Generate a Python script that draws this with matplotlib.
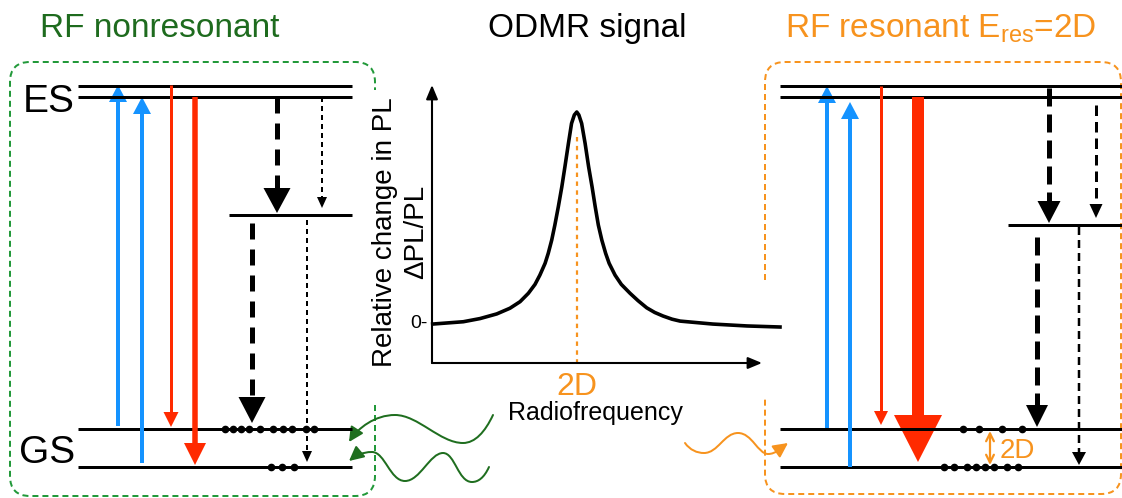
import numpy as np
import matplotlib
matplotlib.use('Agg')
import matplotlib.pyplot as plt
from matplotlib.path import Path
from matplotlib.patches import PathPatch, FancyArrowPatch
from matplotlib.transforms import blended_transform_factory

plt.rcParams['font.family'] = ['Liberation Sans', 'DejaVu Sans']

# ODMR line shape (RF in arb. units, relative PL change normalised to peak)
rf = [0.02, 0.42, 0.90, 1.38, 1.86, 2.24, 2.53, 2.77, 2.96, 3.10, 3.25, 3.34, 3.44,
      3.53, 3.63, 3.73, 3.82, 3.92, 4.01, 4.09, 4.16,
      4.22, 4.30, 4.40, 4.50, 4.60, 4.69, 4.78, 4.88, 4.99, 5.09, 5.26, 5.44, 5.69,
      5.92, 6.17, 6.40, 6.64, 6.90, 7.13, 8.07, 9.05, 10.0]
dpl = [-0.005, 0.0, 0.006, 0.021, 0.043, 0.070, 0.101, 0.141, 0.183, 0.227, 0.283, 0.330,
       0.393, 0.464, 0.551, 0.645, 0.741, 0.851, 0.946, 0.986, 1.0,
       0.986, 0.946, 0.851, 0.741, 0.645, 0.551, 0.464, 0.393, 0.330, 0.283, 0.227, 0.183,
       0.141, 0.106, 0.072, 0.050, 0.033, 0.018, 0.009, -0.005, -0.014, -0.019]
res_rf = 4.16

titles = ['RF nonresonant', 'ODMR signal', r'RF resonant E$_{\mathregular{res}}$=2D']
level_names = ['ES', 'GS']

# populated sublevels drawn as dots (x positions along the ground-state lines)
dots_left_upper = [225, 233, 241, 249, 260, 273, 283, 292, 306, 314]
dots_left_lower = [271, 282, 294]
dots_right_upper = [963, 979, 1002, 1022]
dots_right_lower = [944, 954, 967, 976, 985, 994, 1007, 1018]

BLUE = '#1593FF'
RED = '#FF2A00'
ORANGE = '#F7931E'
GREEN_T = '#1E6B1E'
GREEN_BOX = '#22993A'
GREEN_W = '#1F6E1F'

W, H = 1122, 498
fig = plt.figure(figsize=(W / 100, H / 100), dpi=100)
ax = fig.add_axes([0, 0, 1, 1])
ax.set_xlim(0, W)
ax.set_ylim(H, 0)
ax.axis('off')

PX = 0.72  # pixel -> points at 100 dpi


def level(x0, x1, y, lw=3):
    ax.plot([x0, x1], [y, y], color='k', lw=lw * PX, solid_capstyle='butt')


def arrow(x, y0, y1, color, lw, hw, hl, dash=None):
    d = np.sign(y1 - y0)
    ls = '-' if dash is None else (0, dash)
    ax.plot([x, x], [y0, y1 - d * hl * 0.9], color=color, lw=lw * PX, ls=ls,
            solid_capstyle='butt', dash_capstyle='butt')
    ax.fill([x - hw / 2, x + hw / 2, x], [y1 - d * hl, y1 - d * hl, y1], color=color, lw=0)


def frame(verts, codes, color):
    ax.add_patch(PathPatch(Path(verts, codes), fill=False, edgecolor=color,
                           lw=2 * PX, ls=(0, (3, 2))))


def wave(verts, color, hl=0.8, hw=0.4):
    codes = [Path.MOVETO] + [Path.CURVE4] * (len(verts) - 1)
    ax.add_patch(FancyArrowPatch(path=Path(verts, codes), color=color, lw=2 * PX,
                                 arrowstyle=f'-|>,head_length={hl},head_width={hw}',
                                 mutation_scale=11, shrinkA=0, shrinkB=0))


M, L, C = Path.MOVETO, Path.LINETO, Path.CURVE3

# left frame, open on the right where the ODMR plot sits
x0, y0, x1, y1, r = 10, 62, 375, 496, 20
frame([(x1, 405), (x1, y1 - r), (x1, y1), (x1 - r, y1), (x0 + r, y1), (x0, y1), (x0, y1 - r),
       (x0, y0 + r), (x0, y0), (x0 + r, y0), (x1 - r, y0), (x1, y0), (x1, y0 + r), (x1, 90)],
      [M, L, C, C, L, C, C, L, C, C, L, C, C, L], GREEN_BOX)

# right frame, open on the left
x0, y0, x1, y1, r = 765, 62, 1121, 494, 20
frame([(x0, 280), (x0, y0 + r), (x0, y0), (x0 + r, y0), (x1 - r, y0), (x1, y0), (x1, y0 + r),
       (x1, y1 - r), (x1, y1), (x1 - r, y1), (x0 + r, y1), (x0, y1), (x0, y1 - r), (x0, 397)],
      [M, L, C, C, L, C, C, L, C, C, L, C, C, L], ORANGE)

# ---- left: nonresonant level scheme
for y in (86, 97, 429, 467):
    level(78, 352, y)
level(229, 352, 215)
arrow(118, 426, 85, BLUE, 4, 18, 17)
arrow(142, 463, 97, BLUE, 4, 18, 17)
arrow(171, 85, 427, RED, 3, 15, 15)
arrow(195, 97, 465, RED, 5.5, 22, 22)
arrow(277, 97, 213, 'k', 5, 27, 25, (3.2, 2.0))
arrow(322, 97, 208, 'k', 2, 10, 11, (2.5, 2.0))
arrow(252, 223, 423, 'k', 5, 27, 26, (3.2, 2.0))
arrow(307, 220, 462, 'k', 2, 10, 11, (2.5, 2.0))
ax.plot(dots_left_upper, [429] * len(dots_left_upper), 'o', color='k', ms=4.5)
ax.plot(dots_left_lower, [467] * len(dots_left_lower), 'o', color='k', ms=4.5)
ax.text(75, 112, level_names[0], fontsize=28, ha='right', va='baseline')
ax.text(75, 463, level_names[1], fontsize=28, ha='right', va='baseline')

# ---- right: resonant level scheme
for y in (86, 97, 429, 467):
    level(780, 1122, y)
level(1008, 1122, 225)
arrow(827, 428, 86, BLUE, 4, 18, 17)
arrow(850, 467, 102, BLUE, 4, 18, 17)
arrow(881, 86, 425, RED, 3, 14, 14)
arrow(918, 97, 462, RED, 12, 48, 47)
arrow(1049, 88, 223, 'k', 5, 23, 22, (3.6, 1.6))
arrow(1096, 105, 218, 'k', 3, 13, 14, (3.5, 2.0))
arrow(1037, 237, 427, 'k', 5, 22, 22, (3.6, 1.6))
arrow(1079, 227, 465, 'k', 2.5, 14, 13, (3.2, 2.0))
ax.plot(dots_right_upper, [429] * len(dots_right_upper), 'o', color='k', ms=4.5)
ax.plot(dots_right_lower, [467] * len(dots_right_lower), 'o', color='k', ms=4.5)
ax.annotate('', xy=(990, 431), xytext=(990, 465),
            arrowprops=dict(arrowstyle='<->,head_length=0.4,head_width=0.2', color=ORANGE,
                            lw=1.6, shrinkA=0, shrinkB=0, mutation_scale=14))
ax.text(1000, 458, '2D', fontsize=20, color=ORANGE, ha='left', va='baseline')

# ---- RF photons
wave([(493, 415), (485, 432), (475, 443), (463, 443), (440, 443), (418, 415), (395, 415),
      (375, 415), (358, 428), (349, 442)], GREEN_W)
wave([(489, 467), (484, 478), (478, 482), (472, 482), (458, 482), (455, 453), (443, 453),
      (430, 453), (420, 481), (405, 481), (390, 481), (385, 452), (372, 452),
      (362, 452), (355, 456), (349, 461)], GREEN_W)
wave([(685, 443), (690, 450), (697, 453), (704, 453), (718, 453), (724, 433), (738, 433),
      (752, 433), (758, 454), (768, 454), (776, 454), (781, 448), (788, 443)], ORANGE)

# ---- titles
ax.text(160, 37, titles[0], fontsize=24, color=GREEN_T, ha='center', va='baseline')
ax.text(587, 37, titles[1], fontsize=24, color='k', ha='center', va='baseline')
ax.text(941, 37, titles[2], fontsize=24, color=ORANGE, ha='center', va='baseline')

# ---- ODMR inset
ox0, ox1, oy0, oy1 = 432, 780, 85, 363
odmr = fig.add_axes([ox0 / W, 1 - oy1 / H, (ox1 - ox0) / W, (oy1 - oy0) / H])
odmr.set_xlim(0, 10)
odmr.set_ylim(-40 / 211, 238 / 211)
odmr.set_facecolor('none')
odmr.axis('off')
odmr.plot(rf, dpl, color='k', lw=2.6, solid_joinstyle='round', clip_on=False)
odmr.plot([res_rf, res_rf], [0.88, -40 / 211], color=ORANGE, lw=1.6, ls=(0, (2, 2)))
odmr.annotate('', xy=(0, 1), xytext=(0, 0), xycoords='axes fraction',
              arrowprops=dict(arrowstyle='-|>,head_length=0.6,head_width=0.25', color='k',
                              lw=1.5, shrinkA=0, shrinkB=0, mutation_scale=14))
odmr.annotate('', xy=(330 / 348, 0), xytext=(0, 0), xycoords='axes fraction',
              arrowprops=dict(arrowstyle='-|>,head_length=0.6,head_width=0.25', color='k',
                              lw=1.5, shrinkA=0, shrinkB=0, mutation_scale=14))
odmr.annotate('0-', xy=(0, 0), xycoords=('axes fraction', 'data'), xytext=(-3, 0),
              textcoords='offset points', ha='right', va='center', fontsize=14)
mix = blended_transform_factory(odmr.transData, ax.transData)
ax.text(res_rf, 395, '2D', transform=mix, fontsize=23, color=ORANGE, ha='center', va='baseline')
ax.text(595, 420, 'Radiofrequency', fontsize=18, ha='center', va='baseline')
ax.text(392, 232, 'Relative change in PL', fontsize=20, rotation=90, rotation_mode='anchor',
        ha='center', va='baseline')
ax.text(423, 232, 'ΔPL/PL', fontsize=20, rotation=90, rotation_mode='anchor',
        ha='center', va='baseline')

fig.savefig('out.png', dpi=100)
